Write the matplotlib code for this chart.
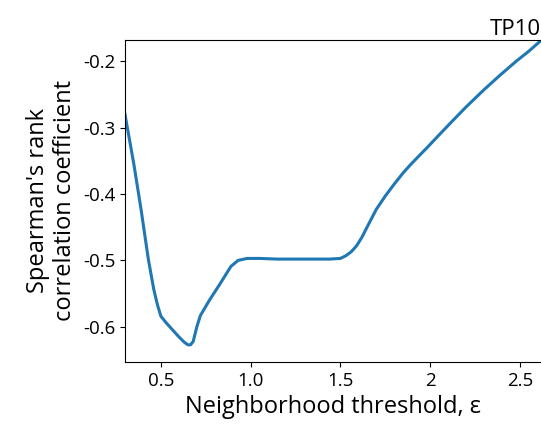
import matplotlib.pyplot as plt
import numpy as np

plt.rcParams['font.family'] = ['Open Sans', 'DejaVu Sans']
plt.rcParams['axes.unicode_minus'] = False

# values
eps = [0.30, 0.35, 0.39, 0.43, 0.46, 0.48, 0.50, 0.53, 0.56, 0.60, 0.63,
       0.65, 0.665, 0.68, 0.70, 0.72, 0.77, 0.83, 0.89, 0.93, 0.98, 1.05,
       1.15, 1.30, 1.44, 1.50, 1.53, 1.56, 1.59, 1.62, 1.65, 1.70, 1.75,
       1.80, 1.85, 1.89, 1.94, 1.98, 2.05, 2.11, 2.20, 2.30, 2.39, 2.48,
       2.55, 2.617]
rho = [-0.280, -0.356, -0.424, -0.498, -0.543, -0.566, -0.584, -0.594,
       -0.603, -0.615, -0.623, -0.627, -0.627, -0.622, -0.600, -0.583,
       -0.560, -0.535, -0.509, -0.500, -0.497, -0.497, -0.498, -0.498,
       -0.498, -0.497, -0.493, -0.487, -0.478, -0.465, -0.449, -0.423,
       -0.403, -0.385, -0.368, -0.356, -0.342, -0.331, -0.311, -0.294,
       -0.269, -0.243, -0.221, -0.200, -0.185, -0.169]

xticks = [0.5, 1.0, 1.5, 2, 2.5]
xticklabels = ['0.5', '1.0', '1.5', '2', '2.5']
yticks = [-0.6, -0.5, -0.4, -0.3, -0.2]

fig, ax = plt.subplots(figsize=(5.41, 4.28), dpi=100)
fig.subplots_adjust(left=0.231, right=1.0, top=0.907, bottom=0.154)

ax.plot(eps, rho, color='#1f77b4', linewidth=2.2)

ax.set_xlim(0.3, 2.617)
ax.set_ylim(-0.653, -0.168)
ax.set_xticks(xticks)
ax.set_xticklabels(xticklabels)
ax.set_yticks(yticks)
ax.tick_params(labelsize=13.5)
ax.spines['right'].set_visible(False)

ax.set_xlabel('Neighborhood threshold, ε', fontsize=17)
ax.set_ylabel("Spearman's rank\ncorrelation coefficient", fontsize=17)
ax.set_title('TP10', loc='right', fontsize=16, pad=1)

plt.savefig('out.png')
